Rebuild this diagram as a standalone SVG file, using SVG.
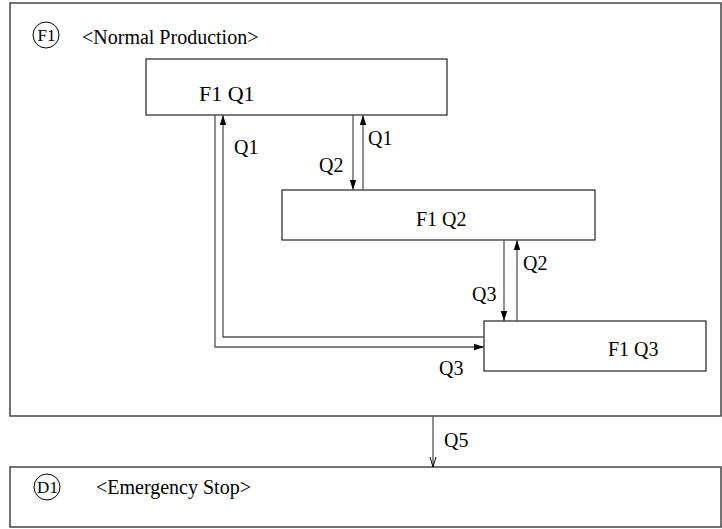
<svg xmlns="http://www.w3.org/2000/svg" width="722" height="529" viewBox="0 0 722 529">
<style>
text{font-family:"Liberation Serif","Times New Roman",Times,serif;font-size:20px;fill:#000}
.frame{fill:none;stroke:#444;stroke-width:1.5}
.box{fill:#fff;stroke:#222;stroke-width:1.2}
.c{fill:none;stroke:#555;stroke-width:1.3}
.circ{fill:none;stroke:#000;stroke-width:1}
.ct{font-size:17px}
</style>
<defs>
<marker id="ah" viewBox="0 0 10 10" refX="10" refY="5" markerWidth="10" markerHeight="10" markerUnits="userSpaceOnUse" orient="auto"><path d="M0,1.8 L10,5 L0,8.2 z" fill="#000"/></marker>
<marker id="oa" viewBox="0 0 10 10" refX="10" refY="5" markerWidth="10" markerHeight="10" markerUnits="userSpaceOnUse" orient="auto"><path d="M0,2 L10,5 L0,8" fill="none" stroke="#000" stroke-width="1"/></marker>
</defs>
<g id="F1">
<rect class="frame" x="10" y="3" width="711" height="413"/>
<circle class="circ" cx="46" cy="35" r="13"/>
<text class="ct" x="46.5" y="41" text-anchor="middle">F1</text>
<text x="82" y="44">&lt;Normal Production&gt;</text>
</g>
<g id="D1">
<rect class="frame" x="10" y="467" width="711" height="60"/>
<circle class="circ" cx="47" cy="487" r="13"/>
<text class="ct" x="47.5" y="493" text-anchor="middle">D1</text>
<text x="96" y="494">&lt;Emergency Stop&gt;</text>
</g>
<g id="Q1">
<rect class="box" x="146" y="59" width="301" height="56"/>
<text x="199" y="101" style="font-size:22px">F1 Q1</text>
</g>
<g id="Q2">
<rect class="box" x="282" y="190" width="313" height="50"/>
<text x="416" y="226">F1 Q2</text>
</g>
<g id="Q3">
<rect class="box" x="484" y="321" width="222" height="50"/>
<text x="608" y="356">F1 Q3</text>
</g>
<g id="connectors">
<path class="c" d="M215,115 V347 H484" marker-end="url(#ah)"/>
<path class="c" d="M484,337 H223 V115" marker-end="url(#ah)"/>
<path class="c" d="M353,115 V190" marker-end="url(#ah)"/>
<path class="c" d="M363,190 V115" marker-end="url(#ah)"/>
<path class="c" d="M504,240 V321" marker-end="url(#ah)"/>
<path class="c" d="M517,321 V240" marker-end="url(#ah)"/>
<path class="c" d="M433,416 V467" marker-end="url(#oa)"/>
<text x="234" y="154">Q1</text>
<text x="319" y="172">Q2</text>
<text x="368" y="145">Q1</text>
<text x="472" y="301">Q3</text>
<text x="523" y="270">Q2</text>
<text x="439" y="375">Q3</text>
<text x="444" y="447">Q5</text>
</g>
</svg>
